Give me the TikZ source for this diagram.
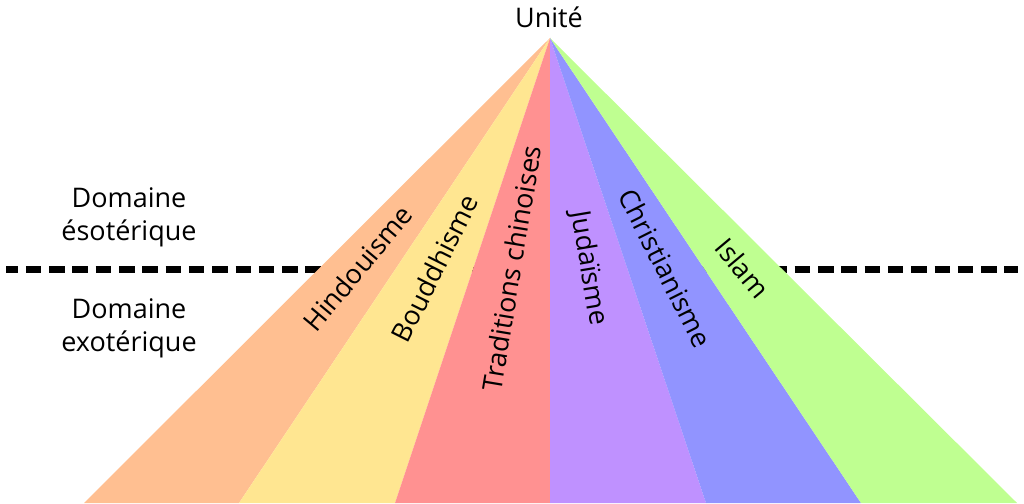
\documentclass[tikz,border=0pt]{standalone}
\usepackage{fontspec}
\setmainfont{Open Sans}
\definecolor{hindu}{RGB}{255,191,145}
\definecolor{bouddha}{RGB}{255,230,145}
\definecolor{chine}{RGB}{255,145,145}
\definecolor{juda}{RGB}{191,145,255}
\definecolor{chret}{RGB}{145,148,255}
\definecolor{islam}{RGB}{191,255,145}
\tikzset{
	txt/.style={font=\fontsize{27}{33}\selectfont, inner sep=0pt},
	domaine/.style={txt, align=center, anchor=base},
	religion/.style={txt, sloped, pos=0.495},
	frontiere/.style={line width=7.5pt, dash pattern=on 15.5pt off 7.8pt, dash phase=3.5pt}
}

\begin{document}
\begin{tikzpicture}[x=1pt, y=-1pt]
		\useasboundingbox (0,0) rectangle (1024,503);
		% sommet et base
		\coordinate (apex) at (550,38);
		\foreach \i/\x in {0/84,1/239,2/395,3/550,4/706,5/861,6/1017}
			\coordinate (b\i) at (\x,503);
		\foreach \i/\x in {0/161.5,1/317,2/472.5,3/628,4/783.5,5/939}
			\coordinate (m\i) at (\x,503);
		\coordinate (fg) at (6,269.3);
		\coordinate (fd) at (1018,269.3);
		% ligne pointillee, cachee par la pyramide
		\draw[frontiere] (fg) -- (fd);
		% les bandes
		\fill[hindu] (apex) -- (b0) -- (b1) -- cycle;
		\fill[bouddha] (apex) -- (b1) -- (b2) -- cycle;
		\fill[chine] (apex) -- (b2) -- (b3) -- cycle;
		\fill[juda] (apex) -- (b3) -- (b4) -- cycle;
		\fill[chret] (apex) -- (b4) -- (b5) -- cycle;
		\fill[islam] (apex) -- (b5) -- (b6) -- cycle;
		% les noms
		\path (apex) -- (m0) node[religion] (hin) {Hindouisme};
		\path (apex) -- (m1) node[religion] (bou) {Bouddhisme};
		\path (apex) -- (m2) node[religion] (tra) {Traditions chinoises};
		\path (apex) -- (m3) node[religion] (jud) {Judaïsme};
		\path (apex) -- (m4) node[religion] (chr) {Christianisme};
		\path (apex) -- (m5) node[religion] (isl) {Islam};
		\node[txt, anchor=base] (unite) at (549,28) {Unité};
		\node[domaine] (eso) at (129,240) {Domaine\\ésotérique};
		\node[domaine] (exo) at (129,351) {Domaine\\exotérique};
\end{tikzpicture}
\end{document}
